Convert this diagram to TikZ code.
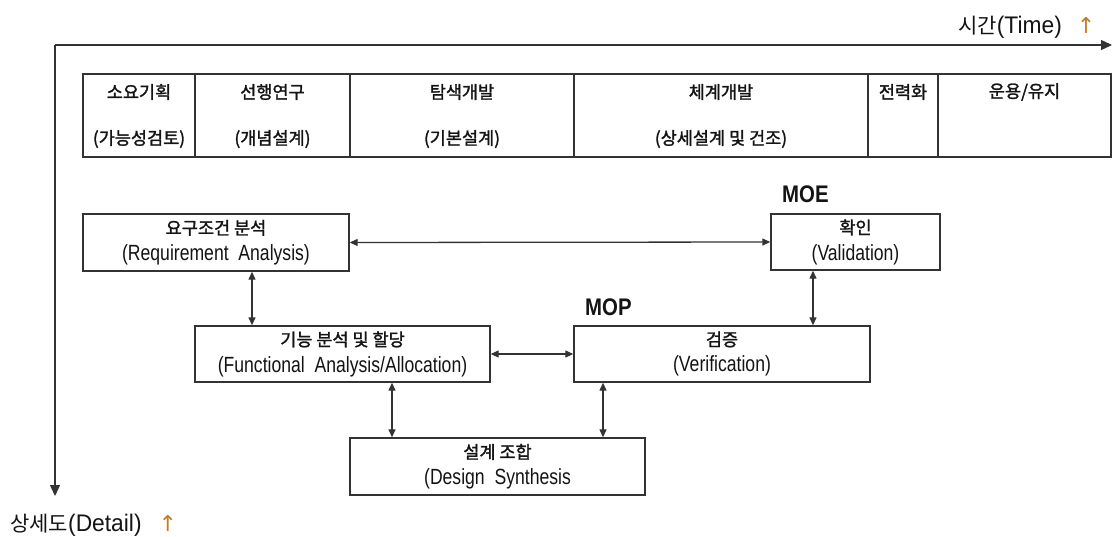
\documentclass[tikz,border=0pt]{standalone}
\usepackage{fontspec}
\usetikzlibrary{arrows.meta}
% Korean text, Latin text and symbols
\newfontfamily\krfont[FakeBold=1.6]{Noto Sans CJK KR}
\newfontfamily\krplain{Noto Sans CJK KR}
\newfontfamily\enfont[FakeStretch=0.8]{Liberation Sans}
\newfontfamily\enaxis[FakeStretch=0.95]{Liberation Sans}
\newfontfamily\enbold[FakeStretch=0.85]{Liberation Sans Bold}
\newfontfamily\symfont{DejaVu Sans}
\newcommand{\krtext}[1]{{\krfont\fontsize{17.5}{26}\selectfont #1}}
\newcommand{\entext}[1]{{\enfont\fontsize{22}{26}\selectfont #1}}
\newcommand{\axistext}[2]{{\krplain\fontsize{21}{24}\selectfont #1}{\enaxis\fontsize{24}{24}\selectfont #2}}
\newcommand{\upmark}{{\symfont\fontsize{22}{24}\selectfont\color{uparrow}↑}}
\definecolor{linec}{HTML}{333333}
\definecolor{txt}{HTML}{141414}
\definecolor{uparrow}{HTML}{C87A28}
\begin{document}
\begin{tikzpicture}[x=1pt,y=-1pt,
  box/.style={draw=linec, line width=1.4pt, fill=white, inner sep=0pt,
    align=center, text=txt, font=\fontsize{17}{26}\selectfont},
  cell/.style={draw=linec, line width=1.4pt, inner sep=0pt,
    minimum height=83pt},
  celltext/.style={inner sep=0pt, text=txt,
    font=\krfont\fontsize{17.5}{20}\selectfont},
  link/.style={line width=1.3pt, draw=linec,
    {Triangle[length=8pt,width=7pt]}-{Triangle[length=8pt,width=7pt]}},
  axis/.style={line width=1.3pt, draw=linec,
    -{Triangle[length=11pt,width=10pt]}},
  measure/.style={inner sep=0pt, anchor=base west, text=txt,
    font=\enbold\fontsize{24}{26}\selectfont}
]
\useasboundingbox (0,0) rectangle (1113,536);

% time and detail axes
\coordinate (origin) at (55,45);
\coordinate (timeend) at (1112,45);
\coordinate (detailend) at (55,496);
\draw[axis] (origin) -- (timeend);
\draw[axis] (origin) -- (detailend);
\node[inner sep=0pt, anchor=base west, text=txt] (timelabel) at (958,33)
  {\axistext{시간}{(Time)}\hspace{15pt}\upmark};
\node[inner sep=0pt, anchor=base west, text=txt] (detaillabel) at (10,531)
  {\axistext{상세도}{(Detail)}\hspace{17pt}\upmark};

% life-cycle phases
\node[cell, minimum width=112pt] (ph1) at (139,115.5) {};
\node[cell, minimum width=155pt] (ph2) at (272.5,115.5) {};
\node[cell, minimum width=224pt] (ph3) at (462,115.5) {};
\node[cell, minimum width=294pt] (ph4) at (721,115.5) {};
\node[cell, minimum width=70pt]  (ph5) at (903,115.5) {};
\node[cell, minimum width=173pt] (ph6) at (1024.5,115.5) {};
\node[celltext] (ph1a) at (139,92) {소요기획};
\node[celltext] (ph1b) at (139,139) {(가능성검토)};
\node[celltext] (ph2a) at (272.5,92) {선행연구};
\node[celltext] (ph2b) at (272.5,139) {(개념설계)};
\node[celltext] (ph3a) at (462,92) {탐색개발};
\node[celltext] (ph3b) at (462,139) {(기본설계)};
\node[celltext] (ph4a) at (721,92) {체계개발};
\node[celltext] (ph4b) at (721,139) {(상세설계 및 건조)};
\node[celltext] (ph5a) at (903,92) {전력화};
\node[celltext] (ph6a) at (1024.5,92) {운용/유지};

% systems engineering process
\node[box, minimum width=266pt, minimum height=57pt] (req) at (216,242.5)
  {\krtext{요구조건 분석}\\\entext{(Requirement\ \ Analysis)}};
\node[box, minimum width=169pt, minimum height=56pt] (val) at (855.5,242)
  {\krtext{확인}\\\entext{(Validation)}};
\node[box, minimum width=295pt, minimum height=56pt] (func) at (342.5,354)
  {\krtext{기능 분석 및 할당}\\\entext{(Functional\ \ Analysis/Allocation)}};
\node[box, minimum width=296pt, minimum height=56pt] (ver) at (722,354)
  {\krtext{검증}\\\entext{(Verification)}};
\node[box, minimum width=295pt, minimum height=57pt] (syn) at (497.5,466.5)
  {\krtext{설계 조합}\\\entext{(Design\ \ Synthesis}};

\node[measure] (moe) at (782,202) {MOE};
\node[measure] (mop) at (585,315) {MOP};

% feedback links
\coordinate (xreq) at (252,0);
\coordinate (xval) at (813,0);
\coordinate (xfs) at (392,0);
\coordinate (xvs) at (603,0);
\draw[link] (req.east) -- (val.west);
\draw[link] (func.east) -- (ver.west);
\draw[link] (req.south -| xreq) -- (func.north -| xreq);
\draw[link] (val.south -| xval) -- (ver.north -| xval);
\draw[link] (func.south -| xfs) -- (syn.north -| xfs);
\draw[link] (ver.south -| xvs) -- (syn.north -| xvs);
\end{tikzpicture}
\end{document}
